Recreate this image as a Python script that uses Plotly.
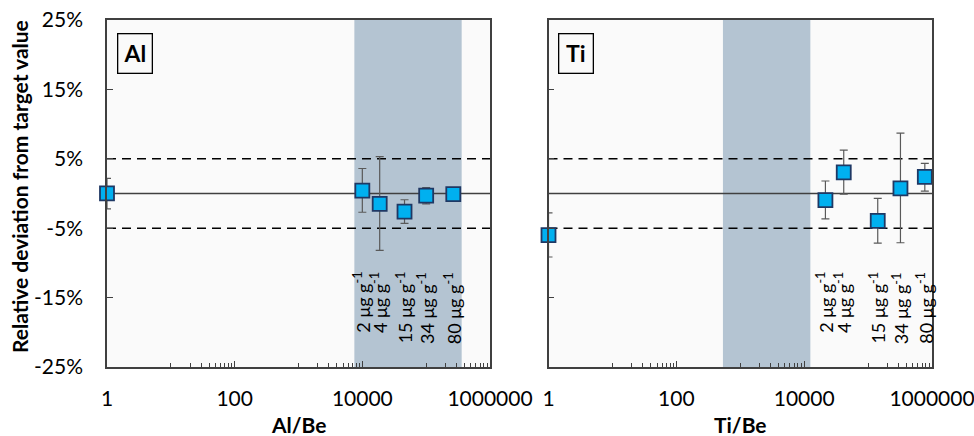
import numpy as np
import plotly.graph_objects as go

# ---------------- data ----------------
al_x = [1, 10000, 18700, 45800, 100000, 266000]
al_y = [0.03, 0.4, -1.5, -2.6, -0.3, -0.1]
al_err_plus = [2.15, 3.2, 6.8, 1.7, 1.15, 0.4]
al_err_minus = [2.25, 3.1, 6.7, 1.7, 1.2, 0.4]
al_shade = [7500, 360000]

ti_x = [1, 21500, 41600, 141600, 321000, 772000]
ti_y = [-6.0, -0.95, 3.05, -3.95, 0.75, 2.4]
ti_err_plus = [3.2, 2.75, 3.2, 3.25, 7.95, 1.95]
ti_err_minus = [3.15, 2.7, 3.15, 3.2, 7.85, 2.05]
ti_shade = [536, 12500]

conc_labels = ["2 μg g<sup>-1</sup>", "4 μg g<sup>-1</sup>", "15 μg g<sup>-1</sup>",
               "34 μg g<sup>-1</sup>", "80 μg g<sup>-1</sup>"]

y_tickvals = [-25, -15, -5, 5, 15, 25]
y_ticktext = ["-25%", "-15%", "-5%", "5%", "15%", "25%"]
x_tickvals = [1, 100, 10000, 1000000]
x_ticktext = ["1", "100", "10000", "1000000"]
ref_lines = [(-5, "dash"), (0, "solid"), (5, "dash")]

# ---------------- styling ----------------
W, H = 974, 436
FONT = "Lato"
AXC = "#404040"
SHADE = "#B4C4D2"
BG = "#FAFAFA"
MFILL = "#00B0F0"
MLINE = "#1F3864"
ERRC = "#595959"

minor_vals = []
for b in [1, 100, 10000]:
    minor_vals += [b * 10 * k for k in range(1, 10)]

def px_x(p):
    return p / W

def px_y(p):
    return 1 - p / H

dom1 = [px_x(107), px_x(490)]
dom2 = [px_x(548.5), px_x(932)]
ydom = [px_y(367), px_y(20)]

fig = go.Figure()

panels = [
    ("x", "y", al_x, al_y, al_err_plus, al_err_minus, al_shade, "Al", "Al/Be", dom1),
    ("x2", "y2", ti_x, ti_y, ti_err_plus, ti_err_minus, ti_shade, "Ti", "Ti/Be", dom2),
]

for xa, ya, xs, ys, ep, em, shade, name, xtitle, dom in panels:
    # shaded band
    fig.add_trace(go.Scatter(
        x=[shade[0], shade[1], shade[1], shade[0], shade[0]],
        y=[-25, -25, 25, 25, -25],
        fill="toself", fillcolor=SHADE, line=dict(width=0), mode="lines",
        hoverinfo="skip", showlegend=False, xaxis=xa, yaxis=ya))
    # reference lines
    for yv, dash in ref_lines:
        fig.add_trace(go.Scatter(
            x=[1, 1000000], y=[yv, yv], mode="lines",
            line=dict(color="#000000" if dash == "dash" else AXC,
                      width=1.5, dash="9px,6px" if dash == "dash" else "solid"),
            hoverinfo="skip", showlegend=False, xaxis=xa, yaxis=ya, cliponaxis=True))
    # points
    fig.add_trace(go.Scatter(
        x=xs, y=ys, mode="markers",
        marker=dict(symbol="square", size=14, color=MFILL,
                    line=dict(color=MLINE, width=1.8)),
        error_y=dict(type="data", symmetric=False, array=ep, arrayminus=em,
                     color=ERRC, thickness=1.2, width=4),
        cliponaxis=False, showlegend=False, xaxis=xa, yaxis=ya))
    # concentration labels
    for xv, lab in zip(xs[1:], conc_labels):
        fig.add_annotation(
            x=np.log10(xv), y=-11.0, xref=xa, yref=ya, text=lab, showarrow=False,
            textangle=-90, xanchor="center", yanchor="top",
            font=dict(family=FONT, size=18, color="#000000"))
    # element box label
    cx = (dom[0] * W) + 27.5
    fig.add_annotation(
        x=px_x(cx), y=px_y(53), xref="paper", yref="paper",
        text="<b>%s</b>" % name, showarrow=False, xanchor="center", yanchor="middle",
        width=31, height=36, borderpad=1, bordercolor="#000000", borderwidth=1.3,
        bgcolor=BG, font=dict(family=FONT, size=23, color="#000000"))
    # x title
    fig.add_annotation(
        x=(dom[0] + dom[1]) / 2, y=px_y(424), xref="paper", yref="paper",
        text="<b>%s</b>" % xtitle, showarrow=False, xanchor="center", yanchor="middle",
        font=dict(family=FONT, size=21, color="#000000"))

# y title
fig.add_annotation(
    x=px_x(20), y=px_y(187), xref="paper", yref="paper",
    text="<b>Relative deviation from target value</b>", showarrow=False,
    textangle=-90, xanchor="center", yanchor="middle",
    font=dict(family=FONT, size=21, color="#000000"))

xaxis_common = dict(
    type="log", range=[0, 6], showline=True, mirror=True, linecolor=AXC, linewidth=1.5,
    ticks="inside", ticklen=6, tickwidth=1, tickcolor=AXC,
    tickmode="array", tickvals=x_tickvals, ticktext=x_ticktext,
    minor=dict(tickmode="array", tickvals=minor_vals, ticks="inside", ticklen=4,
               tickcolor=AXC, tickwidth=1, showgrid=False),
    showgrid=False, zeroline=False, automargin=False, ticklabeloverflow="allow",
    tickfont=dict(family=FONT, size=21, color="#000000"), ticklabelstandoff=12,
)
yaxis_common = dict(
    range=[-25, 25], showline=True, mirror=True, linecolor=AXC, linewidth=1.5,
    ticks="inside", ticklen=6, tickwidth=1, tickcolor=AXC,
    tickmode="array", tickvals=y_tickvals, ticktext=y_ticktext,
    showgrid=False, zeroline=False, automargin=False,
    tickfont=dict(family=FONT, size=21, color="#000000"),
)

fig.update_layout(
    width=W, height=H, margin=dict(l=0, r=0, t=0, b=0),
    paper_bgcolor="#FFFFFF", plot_bgcolor=BG,
    xaxis=dict(domain=dom1, anchor="y", **xaxis_common),
    xaxis2=dict(domain=dom2, anchor="y2", **xaxis_common),
    yaxis=dict(domain=ydom, anchor="x", ticklabelstandoff=18, **yaxis_common),
    yaxis2=dict(domain=ydom, anchor="x2", showticklabels=False, **yaxis_common),
    font=dict(family=FONT),
)

fig.write_html("out.html", config={"displayModeBar": False},
               post_script="document.body.style.margin='0';document.body.style.overflow='hidden';")
